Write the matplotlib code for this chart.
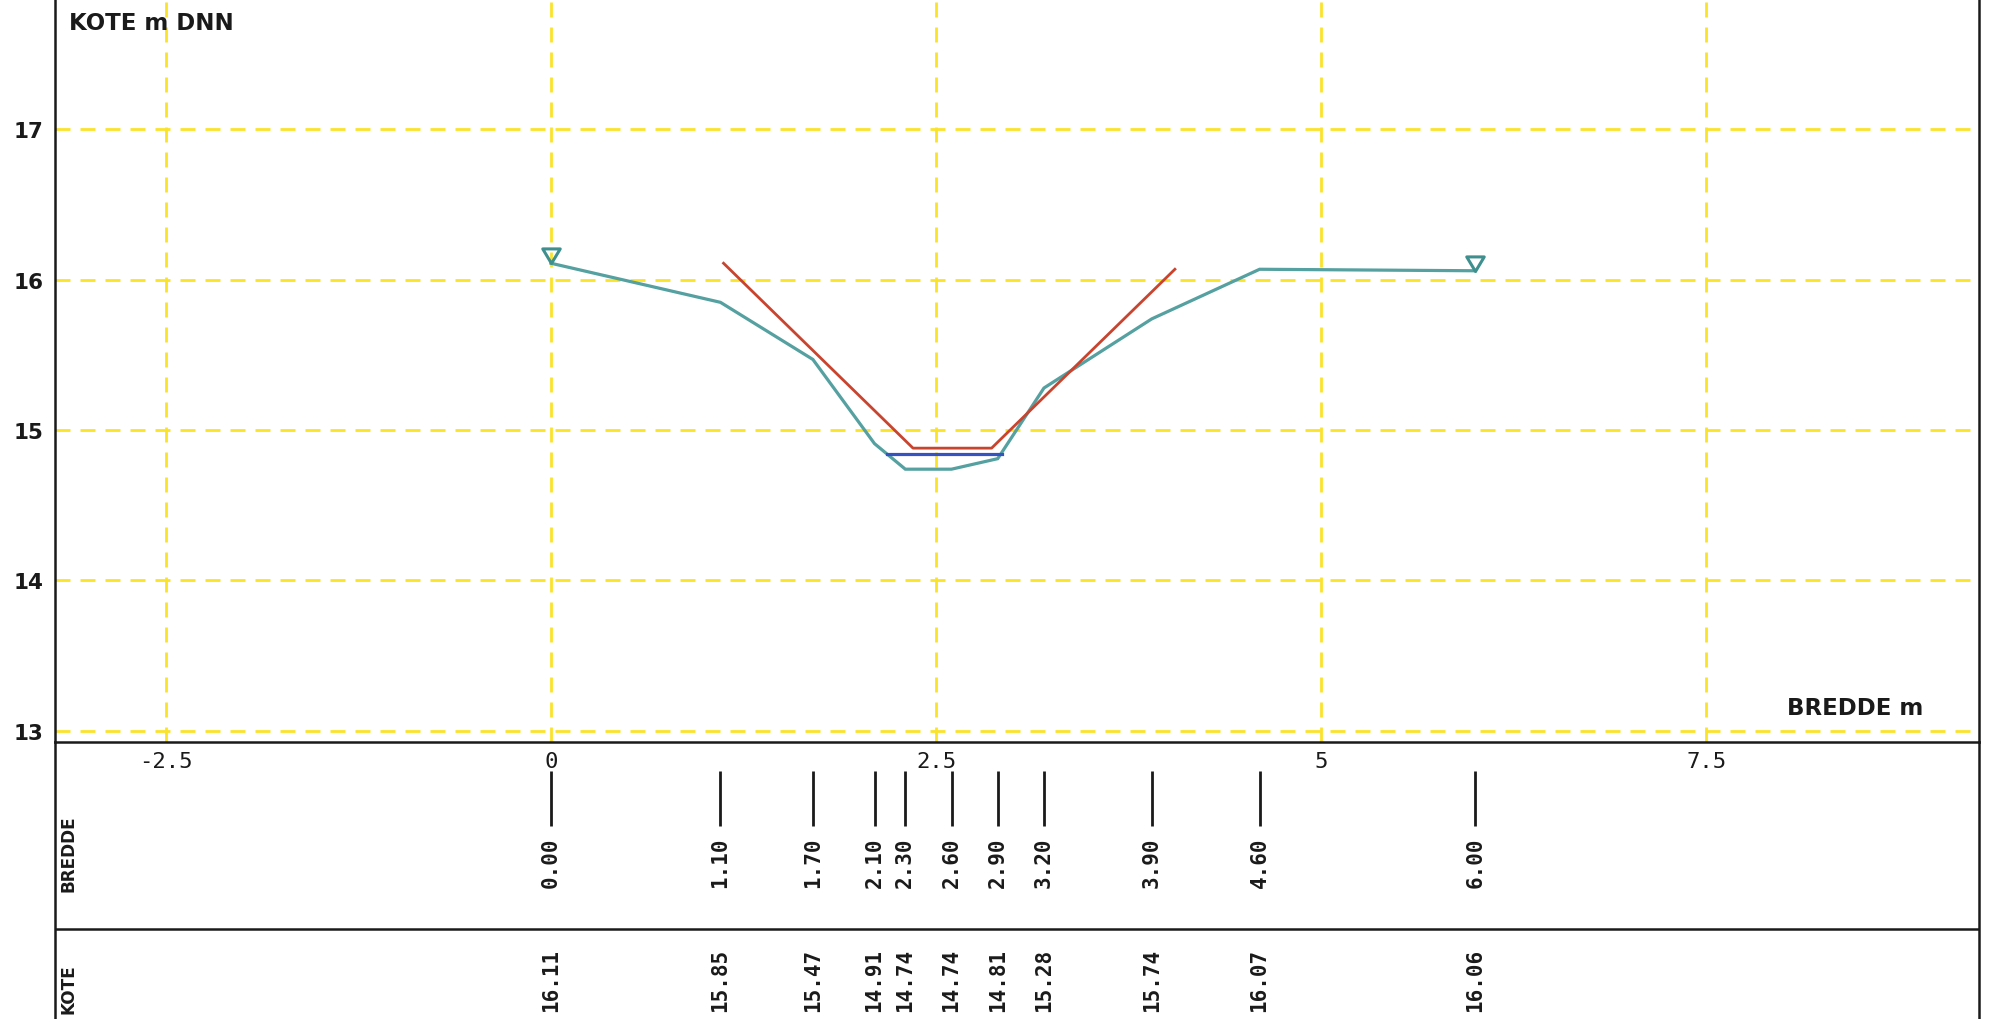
import matplotlib
matplotlib.use("Agg")
import matplotlib.pyplot as plt
from matplotlib.path import Path

# ---- data ----
bredde = [0.0, 1.1, 1.7, 2.1, 2.3, 2.6, 2.9, 3.2, 3.9, 4.6, 6.0]
kote = [16.11, 15.85, 15.47, 14.91, 14.74, 14.74, 14.81, 15.28, 15.74, 16.07, 16.06]
design_x = [1.12, 2.35, 2.86, 4.05]
design_y = [16.11, 14.88, 14.88, 16.07]
water_x = [2.18, 2.93]
water_y = [14.84, 14.84]
xticks = [-2.5, 0, 2.5, 5, 7.5]
xtick_labels = ["-2.5", "0", "2.5", "5", "7.5"]
yticks = [13, 14, 15, 16, 17]
ytick_labels = ["13", "14", "15", "16", "17"]

# ---- styles ----
TEAL = "#55a0a0"
RED = "#c8442f"
BLUE = "#3553c0"
YELLOW = "#fbe32a"
INK = "#1a1a1a"

W, H = 1990, 1020
fig = plt.figure(figsize=(W / 100, H / 100), dpi=100)
fig.patch.set_facecolor("white")

left_px, right_px = 55, 1979
axis_px = 742.7  # x-axis line, from top
ax = fig.add_axes([left_px / W, (H - axis_px) / H, (right_px - left_px) / W, axis_px / H])
ax.set_xlim(-3.22, 9.27)
ax.set_ylim(12.927, 17.868)

ax.set_axisbelow(True)
ax.grid(True, color=YELLOW, linestyle=(0, (5.4, 3.6)), linewidth=2.0)
for s in ("top",):
    ax.spines[s].set_visible(False)
for s in ("left", "right", "bottom"):
    ax.spines[s].set_linewidth(1.8)
    ax.spines[s].set_color(INK)

ax.set_xticks(xticks)
ax.set_xticklabels(xtick_labels, family="DejaVu Sans Mono", fontsize=16, color=INK)
ax.set_yticks(yticks)
ax.set_yticklabels(ytick_labels, family="DejaVu Sans", fontweight="bold", fontsize=15.5, color=INK)
ax.tick_params(axis="x", length=0, pad=7)
ax.tick_params(axis="y", length=0, pad=8)

# terrain profile
ax.plot(bredde, kote, color=TEAL, linewidth=2.3, solid_joinstyle="miter", zorder=3)
# design profile
ax.plot(design_x, design_y, color=RED, linewidth=2.0, zorder=4)
# water level
ax.plot(water_x, water_y, color=BLUE, linewidth=2.3, zorder=4)

# surface markers (open triangle with tip at the point)
tri = Path([(0, 0), (-0.6, 1.0), (0.6, 1.0), (0, 0)],
           [Path.MOVETO, Path.LINETO, Path.LINETO, Path.CLOSEPOLY])
ax.plot([bredde[0], bredde[-1]], [kote[0], kote[-1]], linestyle="none",
        marker=tri, markersize=21, markerfacecolor="none",
        markeredgecolor="#3f8f8f", markeredgewidth=2.2, zorder=5)

ax.text(0.0073, 0.9596, "KOTE m DNN", transform=ax.transAxes, ha="left", va="baseline",
        family="DejaVu Sans", fontweight="bold", fontsize=16.5, color=INK)
ax.text(8.91, 13.111, "BREDDE m", ha="right", va="baseline",
        family="DejaVu Sans", fontweight="bold", fontsize=16.5, color=INK)

# ---- table below ----
tab_h = H - axis_px
axt = fig.add_axes([left_px / W, 0, (right_px - left_px) / W, tab_h / H])
axt.set_xlim(ax.get_xlim())
axt.set_ylim(0, 1)
axt.set_xticks([])
axt.set_yticks([])
axt.patch.set_alpha(0)
axt.spines["bottom"].set_visible(False)
axt.spines["top"].set_visible(False)
for s in ("left", "right"):
    axt.spines[s].set_linewidth(1.8)
    axt.spines[s].set_color(INK)

sep = (H - 930) / tab_h
axt.axhline(sep, color=INK, linewidth=1.8)

line_top = (H - 772) / tab_h
line_bot = (H - 827) / tab_h
axt.vlines(bredde, line_bot, line_top, color=INK, linewidth=2.0)

b_top = (H - 837) / tab_h
k_top = (H - 949) / tab_h
for bx, kz in zip(bredde, kote):
    axt.text(bx, b_top, f"{bx:.2f}", rotation=90, ha="center", va="top",
             family="DejaVu Sans Mono", fontweight="bold", fontsize=15, color=INK)
    axt.text(bx, k_top, f"{kz:.2f}", rotation=90, ha="center", va="top",
             family="DejaVu Sans Mono", fontweight="bold", fontsize=15, color=INK)

fig.text(68.5 / W, (H - 853.5) / H, "BREDDE", rotation=90, ha="center", va="center",
         family="DejaVu Sans", fontweight="bold", fontsize=12.2, color=INK)
fig.text(68.5 / W, (H - 989.5) / H, "KOTE", rotation=90, ha="center", va="center",
         family="DejaVu Sans", fontweight="bold", fontsize=12.2, color=INK)

fig.savefig("out.png", dpi=100, facecolor="white")
